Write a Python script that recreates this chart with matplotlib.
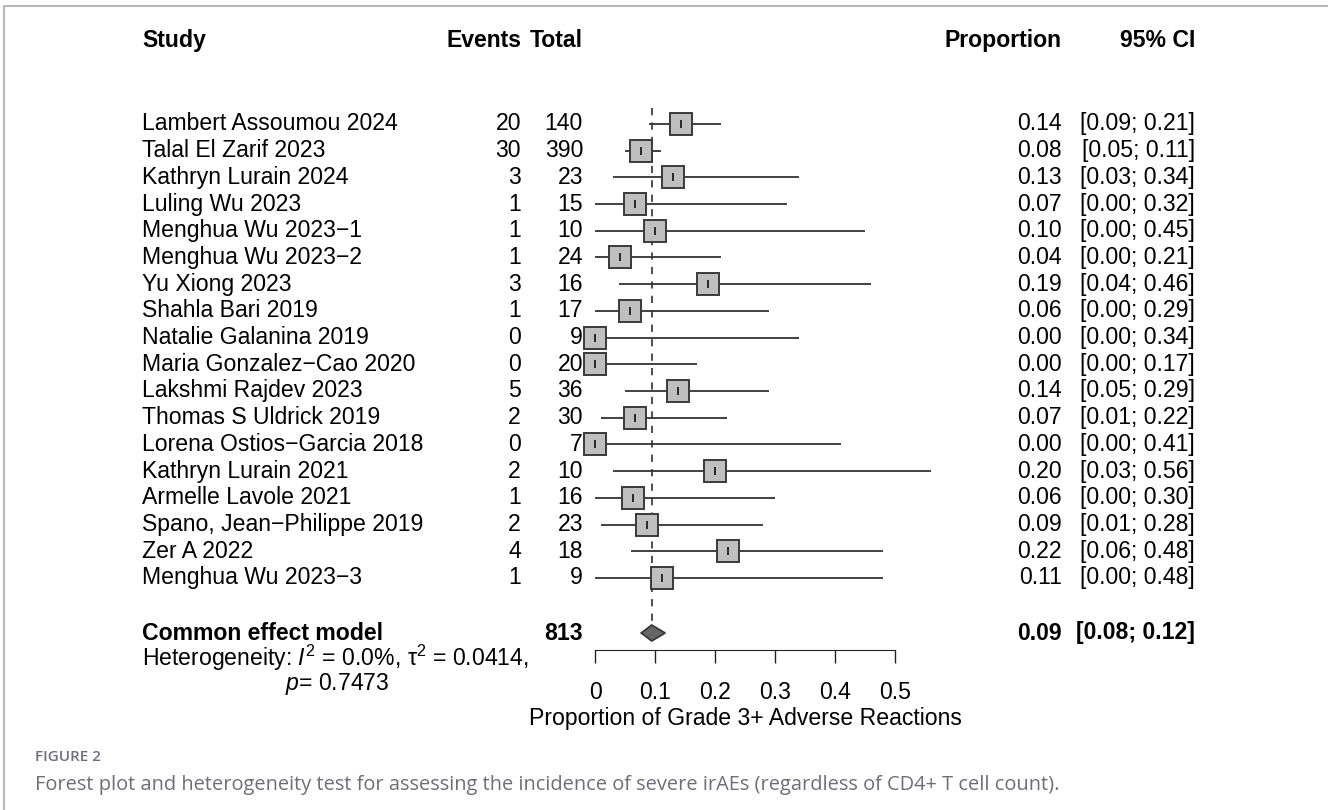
import matplotlib
matplotlib.use('Agg')
import matplotlib.pyplot as plt
import matplotlib.transforms as mtransforms
from matplotlib.patches import Polygon
from matplotlib.lines import Line2D

# study level data
studies = ['Lambert Assoumou 2024', 'Talal El Zarif 2023', 'Kathryn Lurain 2024',
           'Luling Wu 2023', 'Menghua Wu 2023\u22121', 'Menghua Wu 2023\u22122',
           'Yu Xiong 2023', 'Shahla Bari 2019', 'Natalie Galanina 2019',
           'Maria Gonzalez\u2212Cao 2020', 'Lakshmi Rajdev 2023', 'Thomas S Uldrick 2019',
           'Lorena Ostios\u2212Garcia 2018', 'Kathryn Lurain 2021', 'Armelle Lavole 2021',
           'Spano, Jean\u2212Philippe 2019', 'Zer A 2022', 'Menghua Wu 2023\u22123']
events = [20, 30, 3, 1, 1, 1, 3, 1, 0, 0, 5, 2, 0, 2, 1, 2, 4, 1]
totals = [140, 390, 23, 15, 10, 24, 16, 17, 9, 20, 36, 30, 7, 10, 16, 23, 18, 9]
props = [0.143, 0.077, 0.130, 0.067, 0.100, 0.042, 0.188, 0.059, 0.000,
         0.000, 0.139, 0.067, 0.000, 0.200, 0.063, 0.087, 0.222, 0.111]
ci_low = [0.09, 0.05, 0.03, 0.00, 0.00, 0.00, 0.04, 0.00, 0.00,
          0.00, 0.05, 0.01, 0.00, 0.03, 0.00, 0.01, 0.06, 0.00]
ci_high = [0.21, 0.11, 0.34, 0.32, 0.45, 0.21, 0.46, 0.29, 0.34,
           0.17, 0.29, 0.22, 0.41, 0.56, 0.30, 0.28, 0.48, 0.48]

# common effect model
pooled = 0.0945
pooled_low = 0.077
pooled_high = 0.117
pooled_total = 813
het_line1 = 'Heterogeneity: $\\mathit{I}^2$ = 0.0%, \u03c4$^2$ = 0.0414,'
het_line2 = r'$\mathit{p}$= 0.7473'

xticks = [0, 0.1, 0.2, 0.3, 0.4, 0.5]
xtick_labels = ['0', '0.1', '0.2', '0.3', '0.4', '0.5']
xlabel = 'Proportion of Grade 3+ Adverse Reactions'
caption_head = 'FIGURE 2'
caption = ('Forest plot and heterogeneity test for assessing the incidence of severe '
           'irAEs (regardless of CD4+ T cell count).')

plt.rcParams['font.family'] = ['Liberation Sans', 'DejaVu Sans']
plt.rcParams['mathtext.fontset'] = 'custom'
plt.rcParams['mathtext.rm'] = 'Liberation Sans'
plt.rcParams['mathtext.it'] = 'Liberation Sans:italic'
plt.rcParams['mathtext.bf'] = 'Liberation Sans:bold'

W, H = 1328, 810
FS = 16.6
Y0, DY = 124, 26.7   # pixel row of first study, row step


def fx(px):
    return px / W


def row_of(py):
    return (py - Y0) / DY


fig = plt.figure(figsize=(W / 100, H / 100), dpi=100)
fig.patch.set_facecolor('white')

ax = fig.add_axes([fx(595), 0, fx(895) - fx(595), 1])
ax.patch.set_visible(False)
ax.set_xlim(0, 0.5)
ax.set_ylim(row_of(H), row_of(0))

rows = list(range(len(studies)))
r_common = row_of(633)
r_axis = row_of(650)

# confidence intervals, boxes and point marks
ax.hlines(rows, ci_low, ci_high, color='#333333', lw=1.3, zorder=2, clip_on=False)
ax.plot(props, rows, 's', ms=15.5, mfc='#bfbfbf', mec='#3a3a3a', mew=1.4,
        zorder=3, clip_on=False)
ax.plot(props, rows, '|', ms=6, color='black', mew=1.1, zorder=4, clip_on=False)

# pooled estimate
ax.vlines(pooled, row_of(108), r_common - 0.32, color='#404040', lw=1.3,
          linestyles=(0, (4, 4)), zorder=1)
diamond = Polygon([(pooled_low, r_common), (pooled, r_common - 0.3),
                   (pooled_high, r_common), (pooled, r_common + 0.3)],
                  closed=True, fc='#666666', ec='#333333', lw=1.2, zorder=3)
ax.add_patch(diamond)

# axis
for s in ['top', 'left', 'right']:
    ax.spines[s].set_visible(False)
ax.spines['bottom'].set_position(('data', r_axis))
ax.spines['bottom'].set_bounds(0, 0.5)
ax.spines['bottom'].set_color('#222222')
ax.set_yticks([])
ax.set_xticks(xticks)
ax.set_xticklabels(xtick_labels, fontsize=FS)
ax.tick_params(axis='x', direction='out', length=9.5, width=1, pad=13,
               color='#222222')
ax.text(0.25, row_of(718), xlabel, ha='center', va='center', fontsize=FS)

# text columns
tr = mtransforms.blended_transform_factory(fig.transFigure, ax.transData)
r_head = row_of(41)
for x, lab, ha in [(142, 'Study', 'left'), (521, 'Events', 'right'),
                   (583, 'Total', 'right'), (1062, 'Proportion', 'right'),
                   (1195, '95% CI', 'right')]:
    ax.text(fx(x), r_head, lab, transform=tr, ha=ha, va='center',
            fontsize=FS, fontweight='bold')

for i in rows:
    ax.text(fx(142), i, studies[i], transform=tr, ha='left', va='center', fontsize=FS)
    ax.text(fx(521), i, str(events[i]), transform=tr, ha='right', va='center', fontsize=FS)
    ax.text(fx(583), i, str(totals[i]), transform=tr, ha='right', va='center', fontsize=FS)
    ax.text(fx(1062), i, f'{props[i]:.2f}', transform=tr, ha='right', va='center', fontsize=FS)
    ax.text(fx(1195), i, f'[{ci_low[i]:.2f}; {ci_high[i]:.2f}]', transform=tr,
            ha='right', va='center', fontsize=FS)

ax.text(fx(142), r_common, 'Common effect model', transform=tr, ha='left',
        va='center', fontsize=FS, fontweight='bold')
ax.text(fx(583), r_common, str(pooled_total), transform=tr, ha='right',
        va='center', fontsize=FS, fontweight='bold')
ax.text(fx(1062), r_common, f'{pooled:.2f}', transform=tr, ha='right',
        va='center', fontsize=FS, fontweight='bold')
ax.text(fx(1195), r_common, f'[{pooled_low:.2f}; {pooled_high:.2f}]', transform=tr,
        ha='right', va='center', fontsize=FS, fontweight='bold')
ax.text(fx(142), row_of(658), het_line1, transform=tr, ha='left', va='center', fontsize=FS)
ax.text(fx(285), row_of(684), het_line2, transform=tr, ha='left', va='center', fontsize=FS)

# panel frame (top and left edges) and caption
fig.add_artist(Line2D([fx(4), 1], [1 - 6 / H, 1 - 6 / H], color='#b8b8c2', lw=1.5))
fig.add_artist(Line2D([fx(4), fx(4)], [0, 1 - 6 / H], color='#b8b8c2', lw=1.5))
fig.text(fx(35), 1 - 757 / H, caption_head, ha='left', va='center', fontsize=11,
         family='Open Sans', fontweight='semibold', color='#6e6e80')
fig.text(fx(35), 1 - 785 / H, caption, ha='left', va='center', fontsize=14.4,
         family='Open Sans', color='#6e6e7a')

fig.savefig('out.png', dpi=100)
